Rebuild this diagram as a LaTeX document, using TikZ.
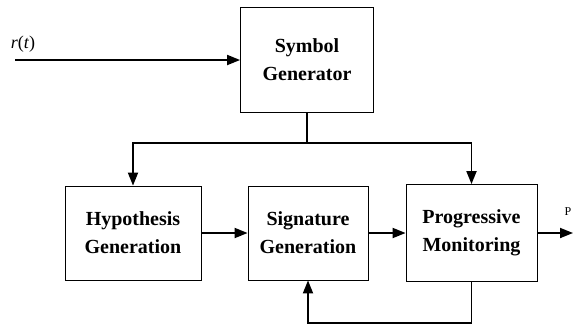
\documentclass[tikz,border=0pt]{standalone}
\usepackage{fontspec}
\setmainfont{Liberation Serif}
\usetikzlibrary{arrows.meta}
\tikzset{>/.tip={Triangle[length=13pt,width=10pt]},
  block/.style={draw, line width=0.8pt, align=center, inner sep=0pt,
    font=\bfseries\fontsize{20}{28}\selectfont},
  flow/.style={->, line width=1.8pt}}

\begin{document}
\begin{tikzpicture}[x=1pt,y=-1pt]
\useasboundingbox (0,0) rectangle (573,325);

\node[block, minimum width=133pt, minimum height=105pt] (sym) at (307,60) {Symbol\\Generator};
\node[block, minimum width=136pt, minimum height=94pt] (hyp) at (133,233) {Hypothesis\\Generation};
\node[block, minimum width=120pt, minimum height=94pt] (sig) at (308,233) {Signature\\Generation};
\node[block, minimum width=131pt, minimum height=97pt] (prog) at (471.5,233) {Progressive\\Monitoring};

\node[inner sep=0pt, font=\fontsize{18}{20}\selectfont] (rt) at (23,44) {\textit{r}(\textit{t})};
\node[inner sep=0pt, font=\fontsize{12}{14}\selectfont] (p) at (568,212) {P};

\coordinate (in) at (15,60);
\coordinate (split) at (307,143);
\coordinate (out) at (573,233);
\coordinate (fb) at (308,323);

\draw[flow] (in) -- (in -| sym.west);
\draw[line width=1.8pt] (sym.south) -- (split);
\draw[flow] (split) -| (hyp.north);
\draw[flow] (split) -| (prog.north);
\draw[flow] (hyp) -- (sig);
\draw[flow] (sig) -- (prog);
\draw[flow] (prog) -- (out);
\draw[flow] (prog.south) |- (fb) -- (sig.south);
\end{tikzpicture}
\end{document}
